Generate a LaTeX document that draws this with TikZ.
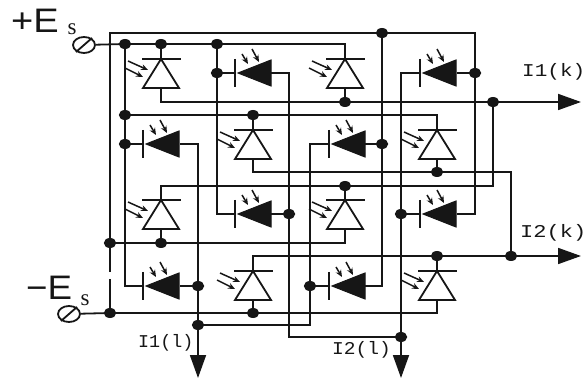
\documentclass[tikz,border=0pt]{standalone}
\usepackage{fontspec}
\usepackage{graphicx}
\setmainfont{Liberation Sans}
\newfontfamily\labfont{Liberation Mono}
\newfontfamily\subfont{Liberation Serif}
\usetikzlibrary{shapes.geometric,arrows.meta,calc}
\definecolor{ink}{HTML}{161616}
\tikzset{
  wire/.style={draw=ink,line width=1.8pt,line join=miter},
  outwire/.style={wire,-{Triangle[length=23pt,width=16pt]}},
  jdot/.style={ellipse,fill=ink,draw=none,minimum width=12.5pt,minimum height=10pt,inner sep=0pt},
  termin/.style={ellipse,draw=ink,line width=1.8pt,fill=white,minimum width=22pt,minimum height=16pt,inner sep=0pt},
  bodyd/.style={draw=ink,line width=1.8pt,line join=miter,fill=white},
  bodyl/.style={draw=ink,fill=ink,line width=1pt,line join=miter},
  bar/.style={draw=ink,line width=1.8pt},
  ray/.style={draw=ink,line width=1.5pt,-{Stealth[length=7pt,width=6pt]}},
  lab/.style={text=ink,inner sep=0pt},
}
\newcommand{\jn}[3]{\node[jdot] (#1) at (#2,#3) {};}
\newcommand{\pd}[3]{% photodiode, #2,#3 = apex
  \coordinate (#1-t) at (#2,#3);
  \coordinate (#1-b) at (#2,#3+29);
  \draw[bodyd] (#2,#3) -- (#2-18,#3+29) -- (#2+18,#3+29) -- cycle;
  \draw[bar] (#2-19,#3) -- (#2+20,#3);
  \draw[ray] (#2-33,#3+2) -- (#2-13,#3+11);
  \draw[ray] (#2-36,#3+9) -- (#2-18,#3+18);
}
\newcommand{\ld}[3]{% filled diode, #2 = bar x, #3 = centre y
  \coordinate (#1-l) at (#2,#3);
  \coordinate (#1-r) at (#2+36,#3);
  \draw[bodyl] (#2+3,#3) -- (#2+36,#3-13) -- (#2+36,#3+13) -- cycle;
  \draw[bar] (#2,#3-14) -- (#2,#3+14);
  \draw[ray] (#2+7,#3-19) -- (#2+13,#3-9);
  \draw[ray] (#2+17,#3-24) -- (#2+24,#3-11);
}
\begin{document}
\begin{tikzpicture}[x=1pt,y=-1pt]
\useasboundingbox (0,0) rectangle (586,379);
% named points
\jn{ja}{125}{44} \jn{jb}{161}{44} \jn{jc}{217}{44} \jn{jd}{217}{73}
\jn{je}{125}{115} \jn{jf}{253}{115} \jn{jg}{125}{144} \jn{jh}{382}{33}
\jn{ji}{475}{73} \jn{jk}{345}{102} \jn{jl}{493}{102} \jn{jm}{382}{144}
\jn{jo}{437}{172} \jn{jp}{345}{186} \jn{jq}{289}{214} \jn{jr}{401}{214}
\jn{js}{110}{243} \jn{jt}{161}{243} \jn{ju}{437}{256} \jn{jv}{511}{256}
\jn{jw}{198}{286} \jn{jx}{310}{286} \jn{jy}{110}{313} \jn{jz}{253}{313}
\jn{ka}{198}{325} \jn{kb}{401}{337}
\coordinate (fa) at (110,33);
\coordinate (fb) at (475,33);
\coordinate (gapa) at (110,272);
\coordinate (gapb) at (110,279);
\coordinate (oa) at (581,102);
\coordinate (ob) at (581,256);
\coordinate (oc) at (198,378);
\coordinate (od) at (401,378);
\node[termin] (tp) at (84,45) {};
\node[termin] (tm) at (69,314) {};
% wires
\draw[wire] (tp) -- (ja.center) -- (jb.center) -- (jc.center) -- (345,44) -- (345,59);
\draw[wire] (tm) -- (jy.center) -- (jz.center) -- (437,313) -- (437,300);
\draw[wire] (jy.center) -- (gapb);
\draw[wire] (gapa) -- (js.center) -- (fa) -- (jh.center) -- (fb) -- (ji.center) -- (475,214) -- (457,214);
\draw[wire] (ja.center) -- (je.center) -- (jg.center) -- (125,286) -- (143,286);
\draw[wire] (jb.center) -- (161,59);
\draw[wire] (jc.center) -- (jd.center) -- (217,214) -- (235,214);
\draw[wire] (jd.center) -- (235,73);
\draw[wire] (jg.center) -- (143,144);
\draw[wire] (180,144) -- (198,144) -- (jw.center) -- (ka.center);
\draw[outwire] (ka.center) -- (oc);
\draw[wire] (271,73) -- (289,73) -- (jq.center) -- (289,337) -- (kb.center);
\draw[outwire] (kb.center) -- (od);
\draw[wire] (271,214) -- (jq.center);
\draw[wire] (jh.center) -- (jm.center) -- (382,286) -- (365,286);
\draw[wire] (365,144) -- (jm.center);
\draw[wire] (329,144) -- (310,144) -- (jx.center) -- (310,325) -- (ka.center);
\draw[wire] (jx.center) -- (329,286);
\draw[wire] (420,73) -- (401,73) -- (jr.center) -- (kb.center);
\draw[wire] (jr.center) -- (420,214);
\draw[wire] (457,73) -- (ji.center);
\draw[wire] (161,88) -- (161,102) -- (jk.center) -- (jl.center);
\draw[outwire] (jl.center) -- (oa);
\draw[wire] (jk.center) -- (345,88);
\draw[wire] (jl.center) -- (493,186) -- (jp.center) -- (161,186) -- (161,200);
\draw[wire] (jp.center) -- (345,200);
\draw[wire] (je.center) -- (jf.center) -- (437,115) -- (437,130);
\draw[wire] (jf.center) -- (253,130);
\draw[wire] (253,158) -- (253,172) -- (jo.center) -- (511,172) -- (jv.center);
\draw[wire] (jo.center) -- (437,158);
\draw[wire] (js.center) -- (jt.center) -- (345,243) -- (345,229);
\draw[wire] (jt.center) -- (161,229);
\draw[wire] (253,271) -- (253,256) -- (ju.center) -- (jv.center);
\draw[outwire] (jv.center) -- (ob);
\draw[wire] (ju.center) -- (437,271);
\draw[wire] (180,286) -- (jw.center);
\draw[wire] (jz.center) -- (253,300);
% devices
\pd{da}{161}{59} \pd{db}{345}{59} \pd{dc}{253}{130} \pd{dd}{437}{130}
\pd{de}{161}{200} \pd{df}{345}{200} \pd{dg}{253}{271} \pd{dh}{437}{271}
\ld{la}{235}{73} \ld{lb}{420}{73} \ld{lc}{143}{144} \ld{ld}{329}{144}
\ld{le}{235}{214} \ld{lf}{420}{214} \ld{lg}{143}{286} \ld{lh}{329}{286}
% terminal slashes
\draw[wire] ($(tp)+(-8,7)$) -- ($(tp)+(8,-7)$);
\draw[wire] ($(tm)+(-8,7)$) -- ($(tm)+(8,-7)$);
% labels
\node[lab,anchor=west] (lp) at (11,21) {\scalebox{1.12}[1]{\fontsize{34}{34}\selectfont +E}};
\node[lab] (lps) at (72,29) {\subfont\fontsize{23}{23}\selectfont s};
\node[lab,anchor=west] (lm) at (26,288) {\scalebox{1.08}[1]{\fontsize{34}{34}\selectfont −E}};
\node[lab] (lms) at (85,300) {\subfont\fontsize{23}{23}\selectfont s};
\node[lab,anchor=west] (l1k) at (522,72) {\scalebox{1.05}[0.9]{\labfont\fontsize{20}{20}\selectfont I1(k)}};
\node[lab,anchor=west] (l2k) at (520,233) {\scalebox{1.1}[0.9]{\labfont\fontsize{20}{20}\selectfont I2(k)}};
\node[lab,anchor=west] (l1l) at (138,343) {\scalebox{0.92}[0.9]{\labfont\fontsize{20}{20}\selectfont I1(l)}};
\node[lab,anchor=west] (l2l) at (332,350) {\scalebox{0.98}[0.9]{\labfont\fontsize{20}{20}\selectfont I2(l)}};
\end{tikzpicture}
\end{document}
